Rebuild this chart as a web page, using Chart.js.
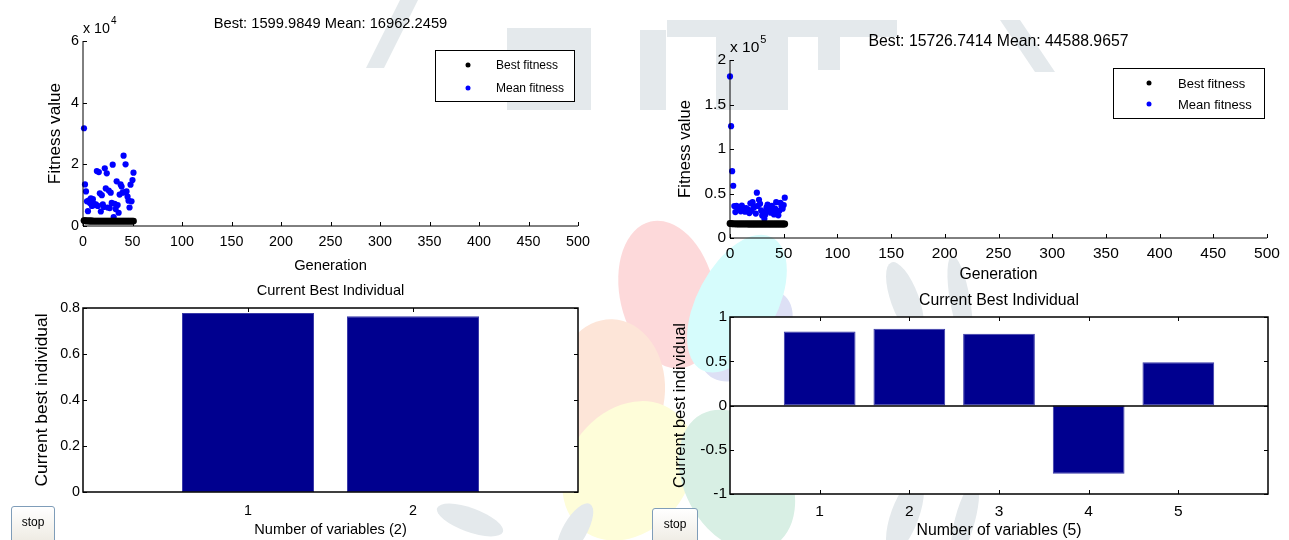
<!DOCTYPE html>
<html><head><meta charset="utf-8">
<script src="https://cdn.jsdelivr.net/npm/chart.js@4.4.0/dist/chart.umd.min.js"></script>
<style>
html,body{margin:0;padding:0;background:#fff;width:1289px;height:540px;overflow:hidden;font-family:"Liberation Sans",Arial,sans-serif}
canvas{position:absolute;left:0;top:0}
.stop{position:absolute;width:44px;height:40px;border:1px solid #7f9db9;border-radius:3px;background:linear-gradient(#ffffff,#ece9e0);font:12px "Liberation Sans",Arial,sans-serif;color:#000;padding:0 0 8px 0;box-sizing:border-box}
</style></head><body>
<canvas id="bg" width="1289" height="540"></canvas>
<canvas id="c1" width="1289" height="540"></canvas>
<canvas id="c2" width="1289" height="540"></canvas>
<canvas id="c3" width="1289" height="540"></canvas>
<canvas id="c4" width="1289" height="540"></canvas>
<button class="stop" style="left:11px;top:506px">stop</button>
<button class="stop" style="left:652px;top:508px;width:46px">stop</button>
<script>
// ---------- data ----------
const genLeft = [1,2,3,4,5,6,7,8,9,10,11,12,13,14,15,16,17,18,19,20,21,22,23,24,25,26,27,28,29,30,31,32,33,34,35,36,37,38,39,40,41,42,43,44,45,46,47,48,49,50,51];
const bestLeft = [1750,1700,1680,1650,1640,1630,1625,1620,1615,1612,1610,1608,1606,1605,1604,1603,1603,1602,1602,1601,1601,1601,1600.5,1600.5,1600.3,1600.2,1600.1,1600.1,1600.1,1600,1600,1600,1600,1600,1600,1600,1600,1600,1600,1600,1600,1600,1600,1600,1600,1600,1600,1600,1600,1600,1599.98];
const meanLeft = [31700,13500,11200,8000,4800,8300,7500,9000,6500,8700,7200,6800,7000,17800,6500,17500,10600,4700,10000,7000,6200,18700,12200,17100,6000,11500,5800,10800,7500,19900,2900,7200,5500,14500,6800,4300,10200,13500,12800,10800,22800,11000,20000,11200,9500,8200,6000,13400,8000,14900,17300];

const genRight = [0,1,2,3,4,5,6,7,8,9,10,11,12,13,14,15,16,17,18,19,20,21,22,23,24,25,26,27,28,29,30,31,32,33,34,35,36,37,38,39,40,41,42,43,44,45,46,47,48,49,50,51];
const bestRight = [16300,16100,16000,15950,15900,15880,15860,15850,15840,15830,15820,15810,15800,15790,15780,15770,15760,15755,15750,15745,15740,15738,15736,15734,15732,15731,15730,15729,15728,15728,15727,15727,15727,15727,15727,15727,15727,15727,15727,15727,15727,15727,15727,15727,15727,15727,15727,15727,15727,15727,15726.74,15726.74];
const meanRight = [181600,125600,75100,58700,35900,29100,36200,33000,32400,34600,30000,36500,34000,31500,29500,33500,30500,32000,28000,39000,30500,40300,34000,35500,27500,50900,36000,43000,38500,31000,25400,29500,21700,26500,34500,37500,30500,33500,28500,36000,31000,26500,33000,40300,29500,25500,30500,39500,35500,33000,37000,45300];

const varsLeft = [1,2];
const individualLeft = [0.778,0.764];
const varsRight = [1,2,3,4,5];
const individualRight = [0.837,0.867,0.81,-0.77,0.488];

const genTicks = [0,50,100,150,200,250,300,350,400,450,500];
const fitTicksLeft = [0,20000,40000,60000];
const fitTicksRight = [0,50000,100000,150000,200000];
const indTicksLeft = [0,0.2,0.4,0.6,0.8];
const indTicksRight = [-1,-0.5,0,0.5,1];

const seriesLabels = ['Best fitness','Mean fitness'];
const titleLeft = 'Best: 1599.9849 Mean: 16962.2459';
const titleRight = 'Best: 15726.7414 Mean: 44588.9657';
const barTitle = 'Current Best Individual';
const xLabelGen = 'Generation';
const yLabelFit = 'Fitness value';
const yLabelInd = 'Current best individual';
const xLabelVarsLeft = 'Number of variables (2)';
const xLabelVarsRight = 'Number of variables (5)';

// ---------- background watermark ----------
(function(){
  const g = document.getElementById('bg').getContext('2d');
  function petal(cx,cy,angDeg,len,wid,col){
    g.save(); g.translate(cx,cy); g.rotate(angDeg*Math.PI/180);
    g.beginPath(); g.ellipse(25+len/2,0,len/2,wid/2,0,0,Math.PI*2);
    g.fillStyle=col; g.fill(); g.restore();
  }
  const cx=690, cy=392;
  petal(cx,cy,-45,110,70,'#dde0f5');
  petal(cx,cy,-103,150,95,'#fdd9da');
  petal(cx,cy,-62,150,80,'#d6fcfc');
  petal(cx,cy,182,110,140,'#fde5d8');
  petal(cx,cy,128,150,120,'#fefdd9');
  petal(cx,cy,62,150,105,'#d8efe4');
  g.fillStyle='#e4e9ec';
  // letter fragments
  g.beginPath(); g.moveTo(366,68); g.lineTo(384,68); g.lineTo(418,0); g.lineTo(400,0); g.closePath(); g.fill();
  g.fillRect(507,28,84,82);
  g.fillRect(640,30,26,80);
  g.fillRect(667,20,230,17);
  g.fillRect(716,37,72,73);
  g.beginPath(); g.moveTo(1000,20); g.lineTo(1020,20); g.lineTo(1055,72); g.lineTo(1035,72); g.closePath(); g.fill();
  g.fillRect(818,20,22,50);
  // laurel leaves
  function leaf(x,y,a,l,w){ g.save(); g.translate(x,y); g.rotate(a*Math.PI/180); g.beginPath(); g.ellipse(0,0,l,w,0,0,Math.PI*2); g.fill(); g.restore(); }
  leaf(905,300,70,40,14); leaf(905,515,-70,40,14); leaf(960,300,80,45,10); leaf(965,520,-75,40,10);
  leaf(575,530,-60,30,12); leaf(470,520,20,35,12);
})();

// ---------- chart helpers ----------
Chart.defaults.font.family = '"Liberation Sans", Arial, sans-serif';
Chart.defaults.color = '#000';
Chart.defaults.animation = false;

const matlabPlugin = {
  id: 'matlab',
  beforeDraw(chart, args, o) {
    if (!o.opaque) return;
    const {ctx, chartArea: a} = chart;
    ctx.save(); ctx.fillStyle = '#fff'; ctx.fillRect(a.left, a.top, a.right - a.left, a.bottom - a.top); ctx.restore();
  },
  beforeDatasetsDraw(chart, args, o) {
    const {ctx, chartArea: a, scales: {x, y}} = chart;
    const L = o.tickLen;
    ctx.save(); ctx.strokeStyle = '#000'; ctx.lineWidth = 1; ctx.beginPath();
    x.ticks.forEach(t => {
      const px = Math.round(x.getPixelForValue(t.value)) + 0.5;
      ctx.moveTo(px, a.bottom); ctx.lineTo(px, a.bottom - L);
      if (o.box) { ctx.moveTo(px, a.top); ctx.lineTo(px, a.top + L); }
    });
    y.ticks.forEach(t => {
      const py = Math.round(y.getPixelForValue(t.value)) + 0.5;
      ctx.moveTo(a.left, py); ctx.lineTo(a.left + L, py);
      if (o.box) { ctx.moveTo(a.right, py); ctx.lineTo(a.right - L, py); }
    });
    ctx.stroke(); ctx.restore();
  },
  afterDatasetsDraw(chart, args, o) {
    const {ctx, chartArea: a, scales: {y}} = chart;
    ctx.save(); ctx.strokeStyle = '#000'; ctx.lineWidth = o.lineW;
    const l = Math.round(a.left), r = Math.round(a.right), t = Math.round(a.top), b = Math.round(a.bottom);
    ctx.beginPath();
    if (o.box) { ctx.rect(l, t, r - l, b - t); }
    else { ctx.moveTo(l, t); ctx.lineTo(l, b); ctx.lineTo(r, b); }
    if (o.zeroLine && y.min < 0) { const z = Math.round(y.getPixelForValue(0)); ctx.moveTo(l, z); ctx.lineTo(r, z); }
    ctx.stroke();
    ctx.restore();
  },
  afterDraw(chart, args, o) {
    const {ctx, chartArea: a} = chart;
    const ff = Chart.defaults.font.family;
    ctx.save(); ctx.fillStyle = '#000';
    ctx.font = o.fontSize + 'px ' + ff; ctx.textAlign = 'center'; ctx.textBaseline = 'alphabetic';
    const cx = (a.left + a.right) / 2;
    ctx.fillText(o.title, cx, o.titleY);
    ctx.fillText(o.xLabel, cx, o.xLabelY);
    ctx.save(); ctx.font = o.yFontSize + 'px ' + ff;
    ctx.translate(o.yLabelX, (a.top + a.bottom) / 2 + o.yLabelDy); ctx.rotate(-Math.PI / 2);
    ctx.fillText(o.yLabel, 0, 0); ctx.restore();
    if (o.exp) {
      ctx.font = o.exp.base + 'px ' + ff;
      ctx.textAlign = 'left';
      ctx.fillText('x 10', a.left, o.exp.y);
      const w = ctx.measureText('x 10').width;
      ctx.font = o.exp.size + 'px ' + ff;
      ctx.fillText(o.exp.p, a.left + w + 1, o.exp.y - o.exp.rise);
    }
    if (o.legend) {
      const lg = o.legend;
      const bx = a.right - lg.inset - lg.w, by = a.top + lg.top;
      ctx.fillStyle = '#fff'; ctx.fillRect(bx, by, lg.w, lg.h);
      ctx.strokeStyle = '#000'; ctx.lineWidth = 1; ctx.strokeRect(bx + 0.5, by + 0.5, lg.w, lg.h);
      ctx.font = lg.size + 'px ' + ff; ctx.textAlign = 'left'; ctx.textBaseline = 'middle';
      chart.data.datasets.forEach((ds, i) => {
        const ry = by + lg.row0 + i * lg.rowGap;
        ctx.fillStyle = ds.backgroundColor;
        ctx.beginPath(); ctx.arc(bx + lg.dotX, ry, 2.5, 0, Math.PI * 2); ctx.fill();
        ctx.fillStyle = '#000'; ctx.fillText(ds.label, bx + lg.textX, ry + 1);
      });
    }
    ctx.restore();
  }
};

function area(l, t, r, b, yW, xH) {
  return {left: l - yW, top: t, right: 1289 - r, bottom: 540 - b - xH};
}
const fmt = v => String(Math.round(v * 1000) / 1000);

function scatterChart(id, gens, best, mean, yTicks, yDiv, box, fs, pads, pluginOpts) {
  return new Chart(document.getElementById(id), {
    type: 'scatter',
    data: {datasets: [
      {label: seriesLabels[0], data: gens.map((g, i) => ({x: g, y: best[i]})), backgroundColor: '#000000', pointRadius: 3.4, pointBorderWidth: 0, clip: false},
      {label: seriesLabels[1], data: gens.map((g, i) => ({x: g, y: mean[i]})), backgroundColor: '#0000ff', pointRadius: 3.1, pointBorderWidth: 0, clip: false}
    ]},
    options: {
      responsive: false, devicePixelRatio: 1, animation: false,
      layout: {padding: area(box[0], box[1], box[2], box[3], 40, 30)},
      plugins: {legend: {display: false}, tooltip: {enabled: false}, title: {display: false}, matlab: pluginOpts},
      scales: {
        x: {type: 'linear', min: genTicks[0], max: genTicks[genTicks.length - 1],
            afterBuildTicks: s => { s.ticks = genTicks.map(v => ({value: v})); },
            afterFit: s => { s.height = 30; },
            grid: {display: false, drawTicks: false}, border: {display: false},
            ticks: {font: {size: fs}, padding: pads[0], maxRotation: 0, autoSkip: false, callback: v => fmt(v)}},
        y: {type: 'linear', min: yTicks[0], max: yTicks[yTicks.length - 1],
            afterBuildTicks: s => { s.ticks = yTicks.map(v => ({value: v})); },
            afterFit: s => { s.width = 40; },
            grid: {display: false, drawTicks: false}, border: {display: false},
            ticks: {font: {size: fs}, padding: pads[1], autoSkip: false, callback: v => fmt(v / yDiv)}}
      }
    },
    plugins: [matlabPlugin]
  });
}

function barChart(id, vars, vals, xMax, yTicks, box, fs, pads, pluginOpts) {
  return new Chart(document.getElementById(id), {
    type: 'bar',
    data: {datasets: [{label: 'ind', data: vars.map((v, i) => ({x: v, y: vals[i]})),
      backgroundColor: '#00008f', borderColor: '#3a3aa8', borderWidth: 1, borderSkipped: false,
      barPercentage: 1.0, categoryPercentage: 0.8}]},
    options: {
      responsive: false, devicePixelRatio: 1, animation: false,
      layout: {padding: area(box[0], box[1], box[2], box[3], 40, 30)},
      plugins: {legend: {display: false}, tooltip: {enabled: false}, title: {display: false}, matlab: pluginOpts},
      scales: {
        x: {type: 'linear', offset: false, min: 0, max: xMax,
            afterBuildTicks: s => { s.ticks = vars.map(v => ({value: v})); },
            afterFit: s => { s.height = 30; },
            grid: {display: false, drawTicks: false}, border: {display: false},
            ticks: {font: {size: fs}, padding: pads[0], maxRotation: 0, autoSkip: false, callback: v => fmt(v)}},
        y: {type: 'linear', min: yTicks[0], max: yTicks[yTicks.length - 1],
            afterBuildTicks: s => { s.ticks = yTicks.map(v => ({value: v})); },
            afterFit: s => { s.width = 40; },
            grid: {display: false, drawTicks: false}, border: {display: false},
            ticks: {font: {size: fs}, padding: pads[1], autoSkip: false, callback: v => fmt(v)}}
      }
    },
    plugins: [matlabPlugin]
  });
}

scatterChart('c1', genLeft, bestLeft, meanLeft, fitTicksLeft, 1e4, [83, 41, 578, 226], 14.3, [7, 4], {
  tickLen: 4, box: false, lineW: 1, fontSize: 14.7, yFontSize: 17.2,
  title: titleLeft, titleY: 28, xLabel: xLabelGen, xLabelY: 270, yLabel: yLabelFit, yLabelX: 60, yLabelDy: 0,
  exp: {base: 14.3, p: '4', y: 33, size: 10, rise: 9},
  legend: {inset: 4, top: 9, w: 139, h: 51, size: 12, row0: 15, rowGap: 23, dotX: 33, textX: 61}
});
scatterChart('c2', genRight, bestRight, meanRight, fitTicksRight, 1e5, [730, 60, 1267, 238], 15.5, [6, 4], {
  tickLen: 4, box: false, lineW: 1, fontSize: 15.8, yFontSize: 16.6,
  title: titleRight, titleY: 46, xLabel: xLabelGen, xLabelY: 279, yLabel: yLabelFit, yLabelX: 690, yLabelDy: 0,
  exp: {base: 15.5, p: '5', y: 52, size: 11, rise: 9},
  legend: {inset: 3, top: 8, w: 151, h: 50, size: 13, row0: 15, rowGap: 21, dotX: 36, textX: 65}
});
barChart('c3', varsLeft, individualLeft, 3, indTicksLeft, [83, 308, 578, 492], 14.3, [10, 3], {
  opaque: true, tickLen: 4, box: true, lineW: 1.5, fontSize: 14.6, yFontSize: 17.4, zeroLine: true,
  title: barTitle, titleY: 295, xLabel: xLabelVarsLeft, xLabelY: 534, yLabel: yLabelInd, yLabelX: 47, yLabelDy: 0
});
barChart('c4', varsRight, individualRight, 6, indTicksRight, [730, 317, 1268, 494], 15.5, [8, 3], {
  opaque: true, tickLen: 4, box: true, lineW: 1.5, fontSize: 15.8, yFontSize: 16.6, zeroLine: true,
  title: barTitle, titleY: 305, xLabel: xLabelVarsRight, xLabelY: 535, yLabel: yLabelInd, yLabelX: 685, yLabelDy: 0
});
</script>
</body></html>
